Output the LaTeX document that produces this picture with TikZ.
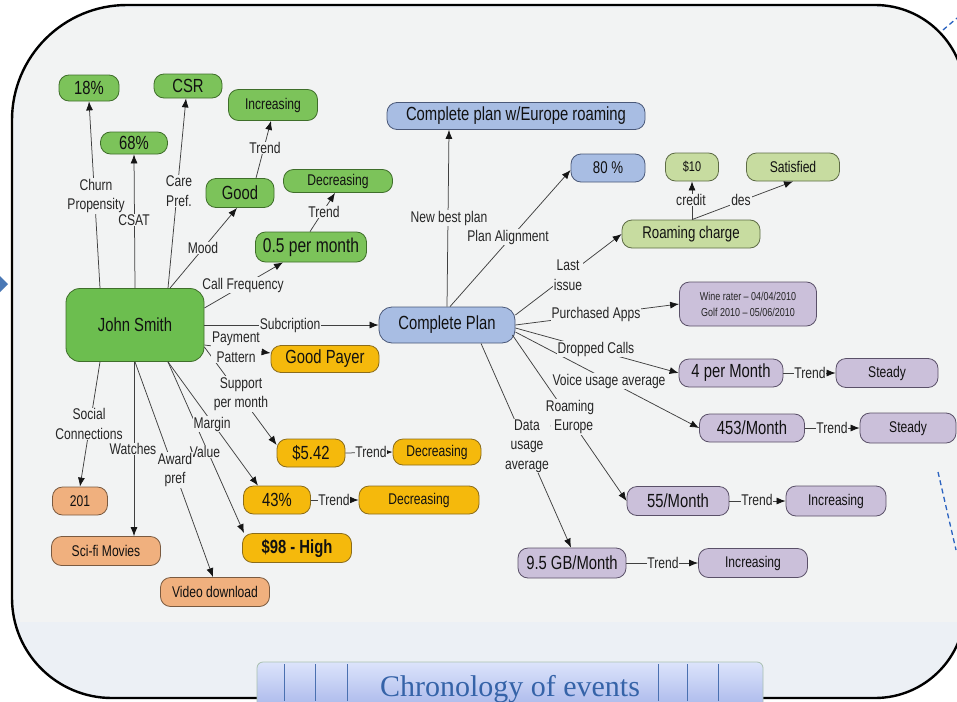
\documentclass[tikz,border=0pt]{standalone}
\usepackage{fontspec}
\setmainfont{Liberation Sans}[FakeStretch=0.78]
\newfontfamily\chronfont{Liberation Serif}
\usetikzlibrary{arrows.meta}
\newcommand\myfs[2]{\fontsize{#1}{#2}\selectfont}
\definecolor{bg}{HTML}{F2F3F3}
\definecolor{framein}{HTML}{ECF0F5}
\definecolor{boxtxt}{HTML}{111111}
\definecolor{lbltxt}{HTML}{262626}
\definecolor{linec}{HTML}{404040}
\definecolor{tipc}{HTML}{151515}
\definecolor{gnfill}{HTML}{7CC35A}
\definecolor{gnline}{HTML}{3F6E2A}
\definecolor{jsfill}{HTML}{6CBE4F}
\definecolor{ogfill}{HTML}{F5B90C}
\definecolor{ogline}{HTML}{8B6C1A}
\definecolor{pcfill}{HTML}{F0B07E}
\definecolor{pcline}{HTML}{7A5A40}
\definecolor{blfill}{HTML}{A8BDE3}
\definecolor{blline}{HTML}{4A5878}
\definecolor{olfill}{HTML}{C7DCA0}
\definecolor{olline}{HTML}{5D6B45}
\definecolor{lvfill}{HTML}{CBC0DA}
\definecolor{lvline}{HTML}{5A5068}
\definecolor{decoblue}{HTML}{4A78B5}
\definecolor{dashblue}{HTML}{2A62C0}
\definecolor{tabtop}{HTML}{DCE4FB}
\definecolor{tabbot}{HTML}{A8B6EA}
\definecolor{tabline}{HTML}{4A70B0}
\definecolor{tabedge}{HTML}{A9C0B0}
\definecolor{chron}{HTML}{3563A8}
\begin{document}
\begin{tikzpicture}[x=1pt,y=-1pt,
  box/.style={rounded corners=10pt,line width=0.8pt,inner sep=0pt,align=center,text=boxtxt},
  wh/.style 2 args={minimum width=#1pt,minimum height=#2pt},
  gn/.style={box,fill=gnfill,draw=gnline},
  og/.style={box,fill=ogfill,draw=ogline},
  pc/.style={box,fill=pcfill,draw=pcline},
  bl/.style={box,fill=blfill,draw=blline},
  ol/.style={box,fill=olfill,draw=olline},
  lv/.style={box,fill=lvfill,draw=lvline},
  bigtxt/.style={font=\myfs{19}{21}},
  smtxt/.style={font=\myfs{15.5}{18}},
  lbl/.style={fill=bg,inner sep=0.8pt,text=lbltxt,font=\myfs{15.5}{19.5},align=center},
  conn/.style={draw=linec,line width=0.75pt,-{Latex[length=9pt,width=7pt,color=tipc]}},
  dashline/.style={draw=dashblue,line width=1.3pt,dash pattern=on 5pt off 3.5pt}
]
\useasboundingbox (0,0) rectangle (957,701);
\fill[white] (0,0) rectangle (957,701);
% background frame
\fill[framein] (12,120) arc[start angle=180,end angle=270,radius=115] -- (875,5)
  arc[start angle=270,end angle=360,radius=90] -- (965,608)
  arc[start angle=0,end angle=90,radius=90] -- (112,698)
  arc[start angle=90,end angle=180,radius=100] -- cycle;
\begin{scope}
\clip (12,120) arc[start angle=180,end angle=270,radius=115] -- (875,5)
  arc[start angle=270,end angle=360,radius=90] -- (965,608)
  arc[start angle=0,end angle=90,radius=90] -- (112,698)
  arc[start angle=90,end angle=180,radius=100] -- cycle;
\fill[bg] (20,8) rectangle (960,622);
\end{scope}
\draw[black,line width=2.4pt] (12,120) arc[start angle=180,end angle=270,radius=115] -- (875,5)
  arc[start angle=270,end angle=360,radius=90] -- (965,608)
  arc[start angle=0,end angle=90,radius=90] -- (112,698)
  arc[start angle=90,end angle=180,radius=100] -- cycle;
\fill[decoblue] (0,276) -- (8,284) -- (0,292) -- cycle;
\draw[dashline] (943,30) -- (957,18);
\draw[dashline] (938,472) -- (956,550);

% green nodes
\node[gn,wh={138}{73},bigtxt,fill=jsfill,rounded corners=14pt] (js) at (135,325) {John Smith};
\node[gn,wh={60}{26},bigtxt] (p18) at (89,88) {18\%};
\node[gn,wh={68}{24},bigtxt] (csr) at (188,86) {CSR};
\node[gn,wh={67}{22},bigtxt] (p68) at (134,143) {68\%};
\node[gn,wh={89}{31},smtxt] (inc1) at (273,105) {Increasing};
\node[gn,wh={68}{29},bigtxt] (good) at (240,193) {Good};
\node[gn,wh={109}{23},smtxt] (dec1) at (338,181) {Decreasing};
\node[gn,wh={111}{30},font=\myfs{20}{22}] (half) at (311,247) {0.5 per month};
% gold nodes
\node[og,wh={108}{27},bigtxt] (gp) at (325,359) {Good Payer};
\node[og,wh={68}{28},bigtxt] (c542) at (311,453) {\$5.42};
\node[og,wh={88}{26},smtxt] (dec2) at (437,452) {Decreasing};
\node[og,wh={67}{28},bigtxt] (p43) at (277,500) {43\%};
\node[og,wh={120}{28},smtxt] (dec3) at (419,500) {Decreasing};
\node[og,wh={109}{29},font=\myfs{19}{21}\bfseries] (high) at (297,548) {\$98 - High};
% peach nodes
\node[pc,wh={55}{28},smtxt] (n201) at (80,501) {201};
\node[pc,wh={109}{29},smtxt] (scifi) at (106,551) {Sci-fi Movies};
\node[pc,wh={109}{29},smtxt] (video) at (215,592) {Video download};
% blue nodes
\node[bl,wh={258}{27},bigtxt] (cpe) at (516,116) {Complete plan w/Europe roaming};
\node[bl,wh={136}{36},bigtxt,rounded corners=13pt] (cp) at (447,325) {Complete Plan};
\node[bl,wh={74}{28},font=\myfs{17}{19}] (p80) at (608,168) {80 \%};
% olive nodes
\node[ol,wh={138}{28},font=\myfs{17}{19}] (rc) at (691,234) {Roaming charge};
\node[ol,wh={53}{28},font=\myfs{14}{16}] (d10) at (692,167) {\$10};
\node[ol,wh={93}{28},smtxt] (sat) at (793,167) {Satisfied};
% lavender nodes
\node[lv,wh={137}{44},font=\myfs{11.5}{16},text=lbltxt] (wine) at (748,304) {Wine rater -- 04/04/2010\\Golf 2010 -- 05/06/2010};
\node[lv,wh={104}{28},bigtxt] (m4) at (731,373) {4 per Month};
\node[lv,wh={102}{29},smtxt] (st1) at (887,373) {Steady};
\node[lv,wh={105}{28},bigtxt] (m453) at (752,428) {453/Month};
\node[lv,wh={96}{30},smtxt] (st2) at (908,428) {Steady};
\node[lv,wh={102}{29},bigtxt] (m55) at (678,501) {55/Month};
\node[lv,wh={100}{30},smtxt] (inc2) at (836,501) {Increasing};
\node[lv,wh={108}{30},bigtxt] (gb) at (572,563) {9.5 GB/Month};
\node[lv,wh={109}{29},smtxt] (inc3) at (753,563) {Increasing};

% connectors
\draw[conn] ([xshift=-35pt]js.north) -- (p18.south);
\draw[conn] (js.north) -- (p68.south);
\draw[conn] ([xshift=33pt]js.north) -- ([xshift=-2pt]csr.south);
\draw[conn] ([xshift=35pt]js.north) -- ([xshift=-3pt]good.south);
\draw[conn] ([xshift=16pt]good.north) -- ([xshift=-2pt]inc1.south);
\draw[conn] ([yshift=17pt]js.east) -- ([xshift=-28pt]half.south);
\draw[conn] ([xshift=-1pt]half.north) -- ([xshift=-3pt]dec1.south);
\draw[conn] (js.east) -- (cp.west);
\draw[conn] ([yshift=-20pt]js.east) -- ([yshift=6pt]gp.west);
\draw[conn] ([yshift=-22pt]js.east) -- ([yshift=8pt]c542.west);
\draw[conn] ([xshift=33pt]js.south) -- ([xshift=-19pt]p43.north);
\draw[conn] ([xshift=33pt]js.south) -- ([xshift=-53pt]high.north);
\draw[conn] (js.south) -- ([xshift=-2pt]video.north);
\draw[conn] ([xshift=-1pt]js.south) -- ([xshift=28pt]scifi.north);
\draw[conn] ([xshift=-35pt]js.south) -- (n201.north);
\draw[conn] (c542.east) -- (dec2.west);
\draw[conn] (p43.east) -- (dec3.west);
\draw[conn] (cp.north) -- ([xshift=-67pt]cpe.south);
\draw[conn] ([xshift=3pt]cp.north) -- ([yshift=-2pt]p80.west);
\draw[conn] ([yshift=10pt]cp.east) -- (rc.west);
\draw[conn] ([xshift=1pt]rc.north) -- (d10.south);
\draw[conn] ([xshift=1pt]rc.north) -- (sat.south);
\draw[conn] (cp.east) -- (wine.west);
\draw[conn] ([yshift=-3pt]cp.east) -- (m4.west);
\draw[conn] ([yshift=-7pt]cp.east) -- (m453.west);
\draw[conn] ([xshift=-3pt,yshift=-10pt]cp.east) -- (m55.west);
\draw[conn] ([xshift=34pt]cp.south) -- ([xshift=-1pt]gb.north);
\draw[conn] (m4.east) -- (st1.west);
\draw[conn] (m453.east) -- (st2.west);
\draw[conn] (m55.east) -- (inc2.west);
\draw[conn] (gb.east) -- (inc3.west);

% labels
\node[lbl] (lchurn) at (96,196) {Churn\\Propensity};
\node[lbl] (lcsat) at (134,220) {CSAT};
\node[lbl] (lcare) at (179,191) {Care\\Pref.};
\node[lbl] (lmood) at (203,248) {Mood};
\node[lbl] (ltr1) at (265,148) {Trend};
\node[lbl] (ltr2) at (324,212) {Trend};
\node[lbl] (lcallf) at (243,285) {Call Frequency};
\node[lbl] (lsub) at (290,325) {Subcription};
\node[lbl] (lpay) at (236,347) {Payment\\Pattern};
\node[lbl] (lsup) at (241,394) {Support\\per month};
\node[lbl] (lmargin) at (212,424) {Margin};
\node[lbl] (lvalue) at (205,452) {Value};
\node[lbl] (laward) at (175,470) {Award\\pref};
\node[lbl] (lwatch) at (133,449) {Watches};
\node[lbl] (lsocial) at (89,424) {Social\\Connections};
\node[lbl] (ltr3) at (371,452) {Trend};
\node[lbl] (ltr4) at (334,500) {Trend};
\node[lbl] (lnbp) at (449,218) {New best plan};
\node[lbl] (lpa) at (508,237) {Plan Alignment};
\node[lbl] (llast) at (568,275) {Last\\issue};
\node[lbl] (lcredit) at (691,200) {credit};
\node[lbl] (ldes) at (741,200) {des};
\node[lbl] (lapps) at (596,314) {Purchased Apps};
\node[lbl] (ldrop) at (596,349) {Dropped Calls};
\node[lbl] (lvoice) at (609,381) {Voice usage average};
\node[lbl] (lroam) at (570,417) {Roaming\\\mbox{-}\ Europe};
\node[lbl] (ldata) at (527,446) {Data\\usage\\average};
\node[lbl] (ltr5) at (810,373) {Trend};
\node[lbl] (ltr6) at (832,428) {Trend};
\node[lbl] (ltr7) at (757,500) {Trend};
\node[lbl] (ltr8) at (663,563) {Trend};

% chronology tab
\shade[top color=tabtop,bottom color=tabbot,draw=tabedge,line width=0.8pt,rounded corners=6pt]
  (257,710) -- (257,662) -- (763,662) -- (763,710) -- cycle;
\foreach \xx in {284,315,347,658,687,718}
  \draw[tabline,line width=0.9pt] (\xx,664) -- (\xx,701);
\node[font=\chronfont\fontsize{30}{32}\selectfont,text=chron,inner sep=0pt,anchor=base] (chronlabel) at (510,696) {Chronology of events};
\end{tikzpicture}
\end{document}
